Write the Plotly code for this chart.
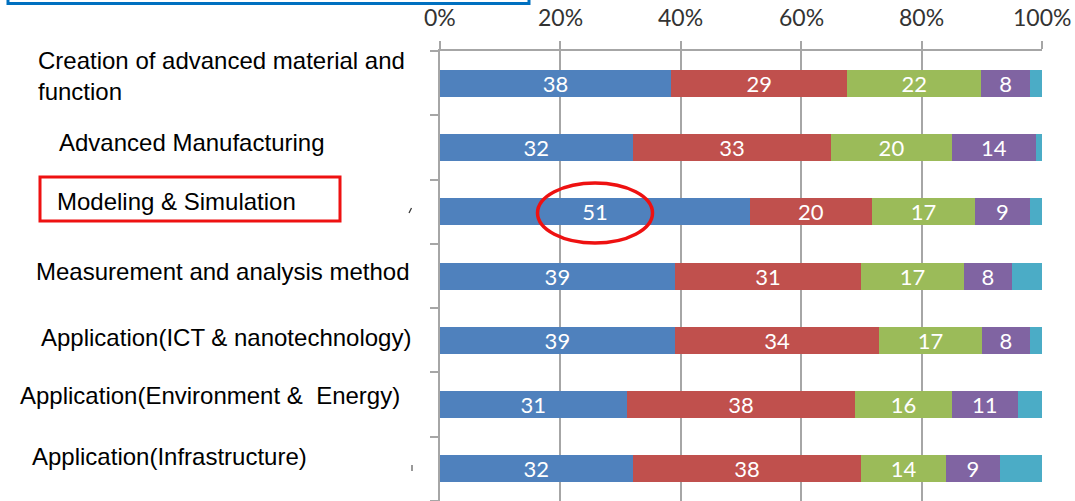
import plotly.graph_objects as go

categories = [
    "Creation of advanced material and function",
    "Advanced Manufacturing",
    "Modeling & Simulation",
    "Measurement and analysis method",
    "Application(ICT & nanotechnology)",
    "Application(Environment &  Energy)",
    "Application(Infrastructure)",
]
label_lines = [
    "Creation of advanced material and<br>function",
    "Advanced Manufacturing",
    "Modeling & Simulation",
    "Measurement and analysis method",
    "Application(ICT & nanotechnology)",
    "Application(Environment &  Energy)",
    "Application(Infrastructure)",
]
s1 = [38, 32, 51, 39, 39, 31, 32]
s2 = [29, 33, 20, 31, 34, 38, 38]
s3 = [22, 20, 17, 17, 17, 16, 14]
s4 = [8, 14, 9, 8, 8, 11, 9]
s5 = [2, 1, 2, 5, 2, 4, 7]
series = [s1, s2, s3, s4, s5]
colors = ["#4F81BD", "#C0504D", "#9BBB59", "#8064A2", "#4BACC6"]
show_text = [True, True, True, True, False]
tick_vals = [0, 20, 40, 60, 80, 100]
tick_text = ["0%", "20%", "40%", "60%", "80%", "100%"]

# label placement (pixel left edge, vertical shift in px)
label_x_px = [36, 57, 55, 34, 39, 18, 30]
label_shift = [7, 5, 10, 5, 3, 9, 12]

W, H = 1075, 501
L, R, T, B = 440, 33, 51, 0
pw = W - L - R
ph = H - T - B

fig = go.Figure()
for vals, col, st in zip(series, colors, show_text):
    fig.add_trace(go.Bar(
        y=categories, x=vals, orientation="h",
        marker=dict(color=col, line=dict(width=0)),
        text=[str(v) for v in vals] if st else None,
        textposition="inside" if st else "none",
        insidetextanchor="middle", textangle=0,
        constraintext="none",
        textfont=dict(color="white", size=22, family="Lato"),
        hoverinfo="skip",
    ))

fig.update_layout(
    barmode="stack", barnorm="percent",
    width=W, height=H,
    margin=dict(l=L, r=R, t=T, b=B, pad=0),
    paper_bgcolor="white", plot_bgcolor="white",
    showlegend=False,
    bargap=0.58,
    uniformtext=dict(minsize=22, mode="show"),
    xaxis=dict(
        side="top", range=[0, 100], tickvals=tick_vals,
        showticklabels=False,
        showgrid=True, gridcolor="#A6A6A6", gridwidth=1.5,
        showline=True, linecolor="#A6A6A6", linewidth=1.5,
        ticks="outside", ticklen=8, tickcolor="#A6A6A6", tickwidth=1.5,
        zeroline=False, fixedrange=True, automargin=False,
    ),
    yaxis=dict(
        categoryorder="array", categoryarray=categories[::-1],
        range=[-0.5, len(categories) - 0.5],
        showticklabels=False, showgrid=False,
        showline=True, linecolor="#A6A6A6", linewidth=1.5,
        ticks="outside", ticklen=8, tickcolor="#A6A6A6", tickwidth=1.5,
        tickson="boundaries", fixedrange=True, automargin=False,
    ),
)

def px_to_paper_x(px):
    return (px - L) / pw

def py_to_paper_y(py):
    return (H - B - py) / ph

# x tick labels
for v, t in zip(tick_vals, tick_text):
    fig.add_annotation(
        x=v, xref="x", xanchor="center",
        y=py_to_paper_y(17), yref="paper", yanchor="middle",
        text=t, showarrow=False,
        font=dict(size=23, family="Lato", color="#333333"),
    )

for cat, text, xp, sh in zip(categories, label_lines, label_x_px, label_shift):
    fig.add_annotation(
        x=px_to_paper_x(xp), xref="paper", xanchor="left",
        y=cat, yref="y", yanchor="middle", yshift=sh,
        text=text, showarrow=False, align="left",
        font=dict(size=24, family="Liberation Sans, Arial", color="black"),
    )

# red box around "Modeling & Simulation"
fig.add_shape(type="rect", xref="paper", yref="paper",
              x0=px_to_paper_x(40), x1=px_to_paper_x(340),
              y0=py_to_paper_y(221), y1=py_to_paper_y(177),
              line=dict(color="#EE1111", width=3))
# red ellipse around 51
fig.add_shape(type="circle", xref="x", yref="paper",
              x0=16.2, x1=35.3,
              y0=py_to_paper_y(243), y1=py_to_paper_y(183),
              line=dict(color="#EE1111", width=3.5))
# blue box fragment at top
fig.add_shape(type="rect", xref="paper", yref="paper",
              x0=px_to_paper_x(8), x1=px_to_paper_x(529),
              y0=py_to_paper_y(3.5), y1=py_to_paper_y(-20),
              line=dict(color="#0070C0", width=3))
# small stray marks
fig.add_shape(type="line", xref="paper", yref="paper",
              x0=px_to_paper_x(409), x1=px_to_paper_x(411.5),
              y0=py_to_paper_y(213), y1=py_to_paper_y(208),
              line=dict(color="#333333", width=1.2))
fig.add_shape(type="line", xref="paper", yref="paper",
              x0=px_to_paper_x(412), x1=px_to_paper_x(412),
              y0=py_to_paper_y(471), y1=py_to_paper_y(465),
              line=dict(color="#555555", width=1.2))

fig.write_html("out.html")
